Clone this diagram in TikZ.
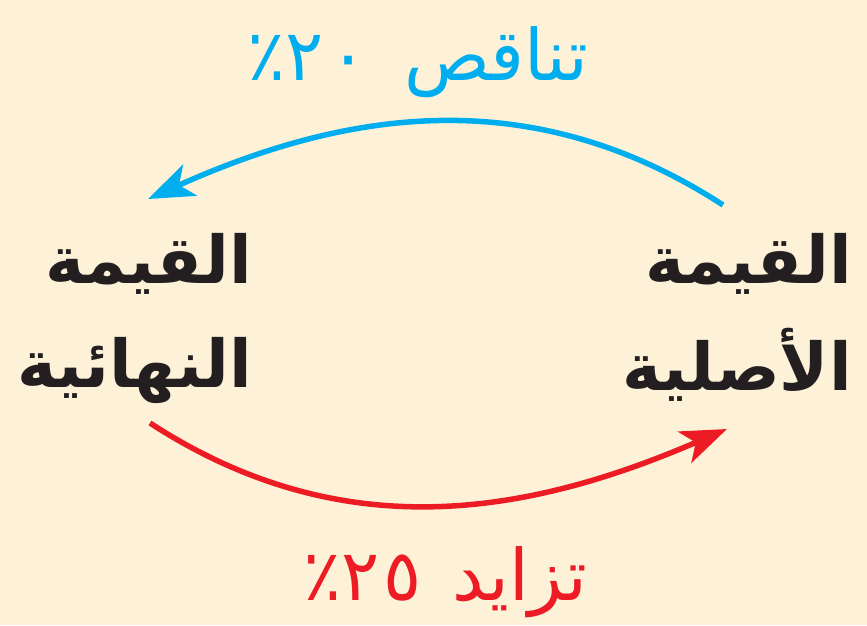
\documentclass[tikz,border=0pt]{standalone}
\usepackage{fontspec}
\usetikzlibrary{arrows.meta}
\TeXXeTstate=1
\newfontfamily\arabicfont[Script=Arabic]{DejaVu Sans}
\definecolor{bgcream}{HTML}{FDF2D8}
\definecolor{arcblue}{HTML}{00AEEF}
\definecolor{arcred}{HTML}{ED1C24}
\definecolor{txtblack}{HTML}{231F20}
\tikzset{
  bigword/.style={anchor=base east, inner sep=0pt, text=txtblack, font=\arabicfont\bfseries\fontsize{66}{70}\selectfont},
  pctlabel/.style={anchor=base east, inner sep=0pt, font=\arabicfont\fontsize{71}{75}\selectfont},
  arcline/.style={line width=5.5pt, -{Stealth[length=46pt, width=34pt, inset=12pt]}}
}
\begin{document}
\begin{tikzpicture}[x=1pt, y=-1pt]
\fill[bgcream] (0,0) rectangle (867,625);
\useasboundingbox (0,0) rectangle (867,625);
% labels
\node[bigword] (orig1) at (852,283) {\beginR القيمة\endR};
\node[bigword] (orig2) at (852,390) {\beginR الأصلية\endR};
\node[bigword] (fin1) at (252,283) {\beginR القيمة\endR};
\node[bigword] (fin2) at (252,387) {\beginR النهائية\endR};
\node[pctlabel, text=arcblue] (dec) at (588,80) {\beginR تناقص\hspace{36pt}\beginL ٢\hspace{6pt}٠\endL٪\endR};
\node[pctlabel, text=arcred] (inc) at (588,600) {\beginR تزايد\hspace{30pt}\beginL ٢\hspace{4pt}٥\endL٪\endR};
% arc end points
\coordinate (bs) at (723,205);
\coordinate (be) at (148,199);
\coordinate (rs) at (150,423);
\coordinate (re) at (727,429);
\draw[arcline, arcblue] (bs) .. controls (529,79) and (342,112) .. (be);
\draw[arcline, arcred] (rs) .. controls (345,550) and (532,513) .. (re);
\end{tikzpicture}
\end{document}
